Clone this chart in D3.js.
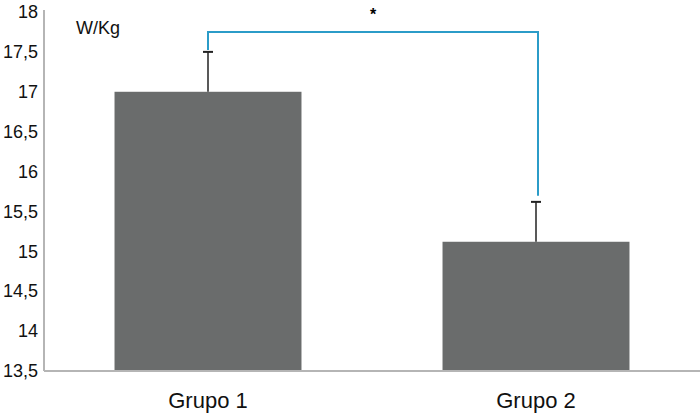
<!DOCTYPE html>
<html><head><meta charset="utf-8">
<script src="https://cdn.jsdelivr.net/npm/d3@7"></script>
<style>
body{margin:0;background:#fff;}
text{font-family:"Liberation Sans",Arial,Helvetica,sans-serif;}
</style></head><body>
<svg id="c" width="700" height="413"></svg>
<script>
const categories = ["Grupo 1", "Grupo 2"];
const means = [17.0, 15.12];
const errors = [0.5, 0.5];
const yTicks = [13.5, 14, 14.5, 15, 15.5, 16, 16.5, 17, 17.5, 18];
const unitLabel = "W/Kg";
const sigLabel = "*";

const svg = d3.select("#c");
const x = d3.scaleBand().domain(categories).range([44, 700]).paddingInner(0.43).paddingOuter(0.215);
const y = d3.scaleLinear().domain([13.5, 18]).range([371, 12]);
const fmt = d => String(d).replace(".", ",");

// bars
svg.selectAll("rect.bar").data(categories).enter().append("rect")
  .attr("x", d => x(d)).attr("width", x.bandwidth())
  .attr("y", (d,i) => y(means[i])).attr("height", (d,i) => y(13.5) - y(means[i]))
  .attr("fill", "#6a6c6c");

// error bars
const cx = d => x(d) + x.bandwidth()/2;
const eg = svg.append("g").attr("stroke", "#222").attr("stroke-width", 1.5);
categories.forEach((d,i) => {
  eg.append("line").attr("x1", cx(d)).attr("x2", cx(d)).attr("y1", y(means[i])).attr("y2", y(means[i]+errors[i]));
  eg.append("line").attr("x1", cx(d)-5).attr("x2", cx(d)+5).attr("y1", y(means[i]+errors[i])).attr("y2", y(means[i]+errors[i])).attr("stroke-width", 2);
});

// significance bracket
const topY = 32;
const x1 = cx(categories[0]), x2 = cx(categories[1]) + 2;
svg.append("path")
  .attr("d", `M${x1},${y(means[0]+errors[0]) - 2}V${topY}H${x2}V${y(means[1]+errors[1]) - 6}`)
  .attr("fill", "none").attr("stroke", "#2b9cc8").attr("stroke-width", 2);
svg.append("text").attr("x", (x1+x2)/2).attr("y", 20).attr("text-anchor", "middle")
  .attr("font-size", 16).attr("font-weight", "bold").text(sigLabel);

// y axis
const ya = svg.append("g").attr("transform", "translate(44,0)")
  .call(d3.axisLeft(y).tickValues(yTicks).tickFormat(fmt).tickSize(0).tickPadding(6));
ya.select(".domain").attr("stroke", "#b5b5b5").attr("stroke-width", 2).attr("d", `M0,${y(18)-2}V${y(13.5)}`);
ya.selectAll("text").attr("font-size", 18).attr("fill", "#111").attr("font-family", "Liberation Sans, Arial, sans-serif");

// x baseline
svg.append("line").attr("x1", 44).attr("x2", 700).attr("y1", y(13.5)).attr("y2", y(13.5))
  .attr("stroke", "#b5b5b5").attr("stroke-width", 2);

// x labels
svg.selectAll("text.xl").data(categories).enter().append("text")
  .attr("x", d => cx(d)).attr("y", 408).attr("text-anchor", "middle")
  .attr("font-size", 22).attr("fill", "#111").text(d => d);

svg.append("text").attr("x", 76).attr("y", 34).attr("font-size", 18).attr("fill", "#111").text(unitLabel);
</script>
</body></html>
